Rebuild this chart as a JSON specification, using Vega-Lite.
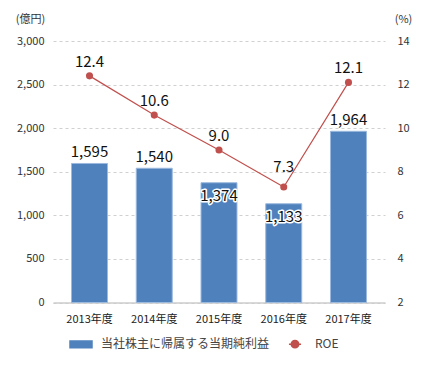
{
  "$schema": "https://vega.github.io/schema/vega-lite/v6.json",
  "width": 332,
  "height": 261.5,
  "autosize": {"type": "none"},
  "padding": {"left": 53, "top": 41, "right": 45, "bottom": 77.5},
  "background": "white",
  "config": {
    "font": "Noto Sans CJK JP",
    "view": {"stroke": null},
    "axis": {"labelFont": "Noto Sans CJK JP", "titleFont": "Noto Sans CJK JP"}
  },
  "data": {
    "values": [
      {"year": "2013年度", "profit": 1595, "roe": 12.4},
      {"year": "2014年度", "profit": 1540, "roe": 10.6},
      {"year": "2015年度", "profit": 1374, "roe": 9.0},
      {"year": "2016年度", "profit": 1133, "roe": 7.3},
      {"year": "2017年度", "profit": 1964, "roe": 12.1}
    ]
  },
  "encoding": {
    "x": {
      "field": "year",
      "type": "nominal",
      "sort": null,
      "scale": {"paddingInner": 0.444, "paddingOuter": 0.286},
      "axis": {
        "title": null,
        "labelAngle": 0,
        "labelFontSize": 11,
        "labelColor": "#222",
        "labelPadding": 11,
        "ticks": false,
        "domainColor": "#cccccc",
        "domainWidth": 1.5
      }
    }
  },
  "layer": [
    {
      "encoding": {
        "y": {
          "field": "profit",
          "type": "quantitative",
          "scale": {"domain": [0, 3000], "nice": false},
          "axis": {
            "title": "(億円)",
            "titleAngle": 0,
            "titleX": -23,
            "titleY": -22,
            "titleAlign": "center",
            "titleBaseline": "middle",
            "titleFontSize": 11,
            "titleFontWeight": "normal",
            "titleColor": "#333",
            "values": [0, 500, 1000, 1500, 2000, 2500, 3000],
            "format": ",d",
            "labelFontSize": 11,
            "labelColor": "#333",
            "labelPadding": 9,
            "ticks": false,
            "domain": false,
            "grid": true,
            "gridColor": "#d0d0d0",
            "gridDash": [3, 3],
            "gridWidth": 1
          }
        }
      },
      "layer": [
        {
          "mark": {"type": "bar", "stroke": "#9cb9de", "strokeWidth": 1},
          "encoding": {
            "color": {
              "datum": "当社株主に帰属する当期純利益",
              "type": "nominal",
              "scale": {
                "domain": ["当社株主に帰属する当期純利益", "ROE"],
                "range": ["#4f81bd", "#c0504d"]
              },
              "legend": {
                "title": null,
                "orient": "none",
                "direction": "horizontal",
                "legendX": 16,
                "legendY": 291,
                "symbolSize": 484,
                "symbolType": {"expr": "datum.value === 'ROE' ? 'M-0.55,0H0.55M-0.34,0A0.34,0.34 0 1,0 0.34,0A0.34,0.34 0 1,0 -0.34,0Z' : 'M-1,-0.3H1V0.3H-1Z'"},
                "symbolStrokeWidth": 1.5,
                "symbolFillColor": {"expr": "datum.value === 'ROE' ? '#c0504d' : '#4f81bd'"},
                "symbolStrokeColor": {"expr": "datum.value === 'ROE' ? '#c0504d' : '#4f81bd'"},
                "symbolOpacity": 1,
                "labelFontSize": 12,
                "labelColor": "#444",
                "labelFont": "Noto Sans CJK JP",
                "labelOffset": 8,
                "labelLimit": 400,
                "columnPadding": 13
              }
            }
          }
        },
        {
          "transform": [{"filter": "datum.year !== '2015年度' && datum.year !== '2016年度'"}],
          "mark": {"type": "text", "fontSize": 15, "color": "#111", "dy": -11, "baseline": "middle"},
          "encoding": {"text": {"field": "profit", "type": "quantitative", "format": ",d"}}
        },
        {
          "transform": [{"filter": "datum.year === '2015年度' || datum.year === '2016年度'"}],
          "mark": {"type": "text", "fontSize": 15, "fill": "white", "stroke": "white", "strokeWidth": 3, "strokeJoin": "round", "dy": 13.5, "baseline": "middle"},
          "encoding": {"text": {"field": "profit", "type": "quantitative", "format": ",d"}}
        },
        {
          "transform": [{"filter": "datum.year === '2015年度' || datum.year === '2016年度'"}],
          "mark": {"type": "text", "fontSize": 15, "color": "#111", "dy": 13.5, "baseline": "middle"},
          "encoding": {"text": {"field": "profit", "type": "quantitative", "format": ",d"}}
        }
      ]
    },
    {
      "encoding": {
        "y": {
          "field": "roe",
          "type": "quantitative",
          "scale": {"domain": [2, 14], "nice": false},
          "axis": {
            "orient": "right",
            "title": "(%)",
            "titleAngle": 0,
            "titleX": 18,
            "titleY": -22,
            "titleAlign": "center",
            "titleBaseline": "middle",
            "titleFontSize": 11,
            "titleFontWeight": "normal",
            "titleColor": "#333",
            "values": [2, 4, 6, 8, 10, 12, 14],
            "labelFontSize": 11,
            "labelColor": "#333",
            "labelPadding": 12,
            "ticks": false,
            "domain": false,
            "grid": false
          }
        }
      },
      "layer": [
        {
          "mark": {"type": "line", "strokeWidth": 1.2, "color": "#c0504d"},
          "encoding": {}
        },
        {
          "mark": {"type": "point", "filled": true, "opacity": 1, "size": 50, "color": "#c0504d"},
          "encoding": {}
        },
        {
          "transform": [{"filter": "datum.year !== '2016年度'"}],
          "mark": {"type": "text", "fontSize": 15, "color": "#111", "dy": -14, "baseline": "middle"},
          "encoding": {"text": {"field": "roe", "type": "quantitative", "format": ".1f"}}
        },
        {
          "transform": [{"filter": "datum.year === '2016年度'"}],
          "mark": {"type": "text", "fontSize": 15, "color": "#111", "dy": -20, "baseline": "middle"},
          "encoding": {"text": {"field": "roe", "type": "quantitative", "format": ".1f"}}
        }
      ]
    }
  ],
  "resolve": {"scale": {"y": "independent"}}
}
